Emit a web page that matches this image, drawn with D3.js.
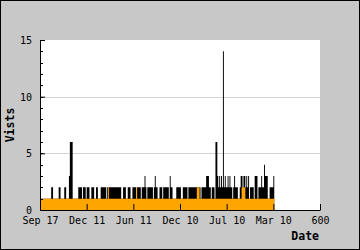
<!DOCTYPE html>
<html>
<head>
<meta charset="utf-8">
<script src="https://cdn.jsdelivr.net/npm/d3@7"></script>
<style>
  body { margin: 0; background: #c8c8c8; }
  svg text { font-family: "DejaVu Sans Mono", monospace; }
</style>
</head>
<body>
<div class="chart"></div>
<script>
// visits per 2-day bin
const visits = [
  1,1,1,1,1,1,1,1,1,1,
  1,1,2,2,1,1,1,1,1,1,
  2,2,1,1,1,1,2,2,1,1,
  1,3,6,6,6,1,1,1,1,1,
  1,2,2,2,2,1,2,2,2,1,
  2,2,2,1,1,2,2,2,1,1,
  2,2,1,1,1,2,2,2,2,2,
  2,1,2,2,2,2,2,2,2,2,
  2,2,2,2,2,2,2,1,1,2,
  2,2,1,1,2,2,2,1,1,2,
  2,2,2,1,2,2,2,2,1,2,
  2,2,3,2,1,2,2,2,2,2,
  2,1,2,3,2,2,1,1,2,2,
  2,1,2,2,2,2,2,2,1,3,
  2,2,1,1,1,1,2,2,2,2,
  2,1,1,2,2,2,2,2,1,2,
  2,2,2,2,2,2,2,2,2,2,
  2,2,1,2,2,2,2,2,3,3,
  3,2,2,1,2,2,2,1,6,6,
  3,2,3,2,3,2,14,2,3,2,
  2,3,2,3,2,2,1,2,3,2,
  2,2,1,1,2,3,3,2,3,3,
  2,3,2,3,1,2,2,2,2,1,
  3,3,3,1,2,2,2,3,2,2,
  4,3,3,3,1,1,2,2,2,2,
  3
];
// second series (orange), same bins
const unique = [
  1,1,1,1,1,1,1,1,1,1,
  1,1,1,1,1,1,1,1,1,1,
  1,1,1,1,1,1,1,1,1,1,
  1,1,1,1,1,1,1,1,1,1,
  1,1,1,1,1,1,1,1,1,1,
  1,1,1,1,1,1,1,1,1,1,
  1,1,1,1,1,1,1,1,1,1,
  1,1,1,2,1,1,1,1,1,1,
  1,1,1,1,1,1,1,1,1,1,
  1,1,1,1,1,1,1,1,1,1,
  1,1,1,2,1,1,1,1,1,1,
  1,1,1,1,1,1,1,1,1,1,
  1,1,1,1,1,1,1,1,1,1,
  1,1,1,1,1,1,1,1,1,1,
  1,1,1,1,1,1,1,1,1,1,
  1,1,1,1,1,1,1,1,1,1,
  1,1,1,1,1,1,1,1,2,2,
  2,1,1,1,1,1,1,1,1,1,
  1,1,1,1,1,1,1,1,1,1,
  1,1,1,1,1,1,1,1,1,1,
  1,1,1,1,1,1,1,1,1,1,
  1,1,1,1,1,1,2,2,2,2,
  1,1,1,1,1,1,1,1,1,1,
  1,1,1,1,1,1,1,1,1,1,
  1,1,1,1,1,1,1,1,1,1,
  1
];
const binDays = 2;
const xTicks = [0, 100, 200, 300, 400, 500, 600];
const xTickLabels = ["Sep 17", "Dec 11", "Jun 11", "Dec 10", "Jul 10", "Mar 10", "600"];
const yMajor = [0, 5, 10, 15];

const W = 360, H = 250;
const margin = ({top: 40, right: 40, bottom: 40, left: 40});
const w = W - margin.left - margin.right;
const h = H - margin.top - margin.bottom;

const root = d3.select(".chart").append("svg")
    .attr("width", W)
    .attr("height", H);

root.append("rect")
    .attr("x", 0.5).attr("y", 0.5)
    .attr("width", W - 1).attr("height", H - 1)
    .attr("fill", "#c8c8c8")
    .attr("stroke", "#000");

const svg = root.append("g")
    .attr("transform", `translate(${margin.left},${margin.top})`);

const xScale = d3.scaleLinear().domain([0, 600]).range([0, w]);
const yScale = d3.scaleLinear().domain([0, 15]).range([h, 0]);

svg.append("rect")
    .attr("width", w).attr("height", h)
    .attr("fill", "#fff");

// grid
svg.append("g").selectAll("line")
    .data([5, 10])
    .join("line")
    .attr("x1", 0).attr("x2", w)
    .attr("y1", d => Math.round(yScale(d)) + 0.5).attr("y2", d => Math.round(yScale(d)) + 0.5)
    .attr("stroke", "#d4d4d4");

// step areas
function toPoints(arr) {
    const pts = arr.map((v, i) => ({day: i * binDays, v}));
    pts.push({day: arr.length * binDays, v: arr[arr.length - 1]});
    return pts;
}
const area = d3.area()
    .curve(d3.curveStepAfter)
    .x(d => xScale(d.day))
    .y0(yScale(0))
    .y1(d => yScale(d.v));

svg.append("path")
    .datum(toPoints(visits))
    .attr("fill", "#000")
    .attr("d", area);

svg.append("path")
    .datum(toPoints(unique))
    .attr("fill", "#ffa500")
    .attr("d", area);

// axes
const yAxis = d3.axisLeft(yScale)
    .tickValues(yMajor)
    .tickSize(-5)
    .tickPadding(8);
const yAxisDisplay = svg.append("g").attr("class", "axis y-axis").call(yAxis);

svg.append("g").selectAll("line")
    .data(d3.range(0, 16))
    .join("line")
    .attr("x1", 0).attr("x2", 3)
    .attr("y1", d => Math.round(yScale(d)) + 0.5)
    .attr("y2", d => Math.round(yScale(d)) + 0.5)
    .attr("stroke", "#000");

const xAxis = d3.axisBottom(xScale)
    .tickValues(xTicks)
    .tickFormat((d, i) => xTickLabels[i])
    .tickSize(-6)
    .tickPadding(7);
const xAxisDisplay = svg.append("g")
    .attr("class", "axis x-axis")
    .attr("transform", `translate(0,${h})`)
    .call(xAxis);

[xAxisDisplay, yAxisDisplay].forEach(g => {
    g.select(".domain").attr("stroke", "#000").attr("d",
        g === xAxisDisplay ? `M0.5,0.5H${w + 0.5}` : `M0.5,0.5V${h + 0.5}`);
    g.selectAll(".tick line").attr("stroke", "#000");
    g.selectAll("text").attr("font-size", 10).attr("fill", "#000")
        .attr("font-family", "DejaVu Sans Mono, monospace");
});
yAxisDisplay.selectAll(".tick text").attr("dy", "0.35em");

// titles
root.append("text")
    .attr("transform", `translate(14,${margin.top + h / 2}) rotate(-90)`)
    .attr("text-anchor", "middle")
    .attr("font-size", 11.5)
    .attr("font-weight", "bold")
    .text("Vists");

root.append("text")
    .attr("x", 319).attr("y", 240)
    .attr("text-anchor", "end")
    .attr("font-size", 11.5)
    .attr("font-weight", "bold")
    .text("Date");
</script>
</body>
</html>
